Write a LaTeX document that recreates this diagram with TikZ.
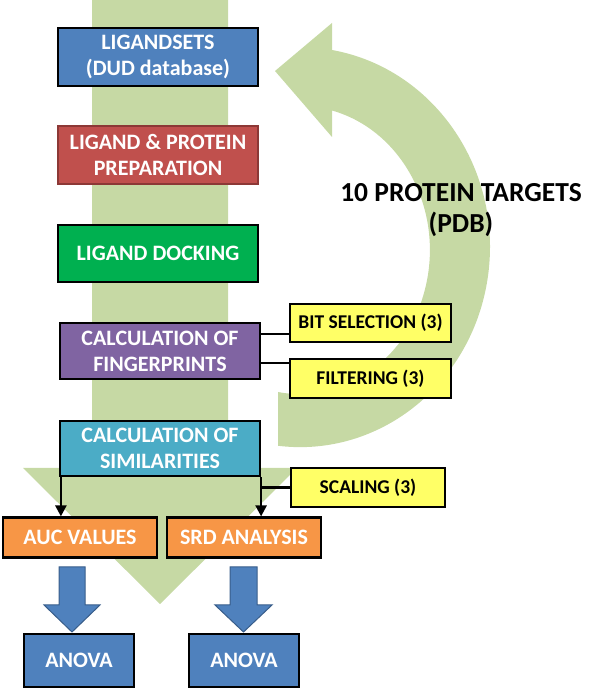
\documentclass[tikz,border=0pt]{standalone}
\usepackage{fontspec}
\setmainfont{Carlito}
\usetikzlibrary{calc,arrows.meta}
\definecolor{lgreen}{HTML}{C6D9A4}
\definecolor{cblue}{HTML}{4F81BD}
\definecolor{cbluedk}{HTML}{385D8A}
\definecolor{cred}{HTML}{C0504D}
\definecolor{creddk}{HTML}{8C3836}
\definecolor{cgreen}{HTML}{00B050}
\definecolor{cpurple}{HTML}{8064A2}
\definecolor{caqua}{HTML}{4BACC6}
\definecolor{corange}{HTML}{F79646}
\definecolor{cyellow}{HTML}{FFFF66}
\begin{document}
\begin{tikzpicture}[x=1pt,y=1pt,
  box/.style={draw=black, line width=2.2pt, align=center, text=white, inner sep=0pt,
    font=\fontsize{22}{26}\selectfont\bfseries},
  ybox/.style={draw=black, line width=2.2pt, fill=cyellow, align=center, text=black, inner sep=0pt,
    minimum height=40pt, font=\fontsize{19.5}{23}\selectfont\bfseries},
  conn/.style={draw=black, line width=2.4pt},
  arr/.style={conn, -{Triangle[length=11pt,width=11pt]}},
  barrow/.style={fill=cblue, draw=cbluedk, line width=1pt}
]
\useasboundingbox (0,0) rectangle (598,689);
% big green down arrow
\fill[lgreen] (92,689) -- (92,221) -- (23,221) -- (160,85) -- (297,221) -- (228,221) -- (228,689) -- cycle;
% curved green arrow
\fill[lgreen] (332,639) arc[start angle=80.3, end angle=-96.6, x radius=190, y radius=200]
  -- (278,297) arc[start angle=-99.7, end angle=75.7, x radius=130, y radius=144]
  -- (332,552) -- (275,618) -- (332,666) -- cycle;
% boxes
\node[box, fill=cblue, minimum width=200pt, minimum height=58pt] (lig) at (158,632) {LIGANDSETS\\(DUD database)};
\node[box, fill=cred, draw=creddk, minimum width=200pt, minimum height=58pt] (prep) at (158,534) {LIGAND \& PROTEIN\\PREPARATION};
\node[box, fill=cgreen, minimum width=200pt, minimum height=57pt] (dock) at (158,435.5) {LIGAND DOCKING};
\node[box, fill=cpurple, minimum width=200pt, minimum height=56pt] (fp) at (160,338) {CALCULATION OF\\FINGERPRINTS};
\node[box, fill=caqua, minimum width=200pt, minimum height=55pt] (sim) at (160,240.5) {CALCULATION OF\\SIMILARITIES};
\node[box, fill=corange, minimum width=154pt, minimum height=40pt] (auc) at (80,151.5) {AUC VALUES};
\node[box, fill=corange, minimum width=154pt, minimum height=40pt] (srd) at (244,151.5) {SRD ANALYSIS};
\node[box, fill=cblue, minimum width=110pt, minimum height=53pt] (an1) at (79,28.5) {ANOVA};
\node[box, fill=cblue, minimum width=110pt, minimum height=53pt] (an2) at (244,28.5) {ANOVA};
\node[ybox, minimum width=161pt, minimum height=38pt] (bit) at (370.5,366) {BIT SELECTION (3)};
\node[ybox, minimum width=161pt, minimum height=39pt] (filt) at (370.5,310.5) {FILTERING (3)};
\node[ybox, minimum width=154pt, minimum height=39pt] (scal) at (368,201.5) {SCALING (3)};
% title
\node[align=center, font=\fontsize{27.5}{31}\selectfont\bfseries] (title) at (461,479) {10 PROTEIN TARGETS\\(PDB)};
% connectors
\coordinate (f1) at ($(fp.north east)!0.21!(fp.south east)$);
\coordinate (f2) at ($(fp.north east)!0.71!(fp.south east)$);
\draw[conn] (f1) -- (f1 -| bit.west);
\draw[conn] (f2) -- (f2 -| filt.west);
\coordinate (s1) at ([xshift=2pt]sim.south west);
\draw[arr] (s1) -- (s1 |- auc.north);
\draw[arr] (sim.south east) -- (sim.south east |- srd.north);
\coordinate (sj) at (sim.south east |- scal.west);
\draw[conn] (sj) -- (scal.west);
% blue arrows
\draw[barrow] (59,122) -- (59,84) -- (44,84) -- (72,57) -- (100,84) -- (85,84) -- (85,122) -- cycle;
\draw[barrow] (230,122) -- (230,84) -- (215,84) -- (243.5,57) -- (272,84) -- (257,84) -- (257,122) -- cycle;
\end{tikzpicture}
\end{document}
